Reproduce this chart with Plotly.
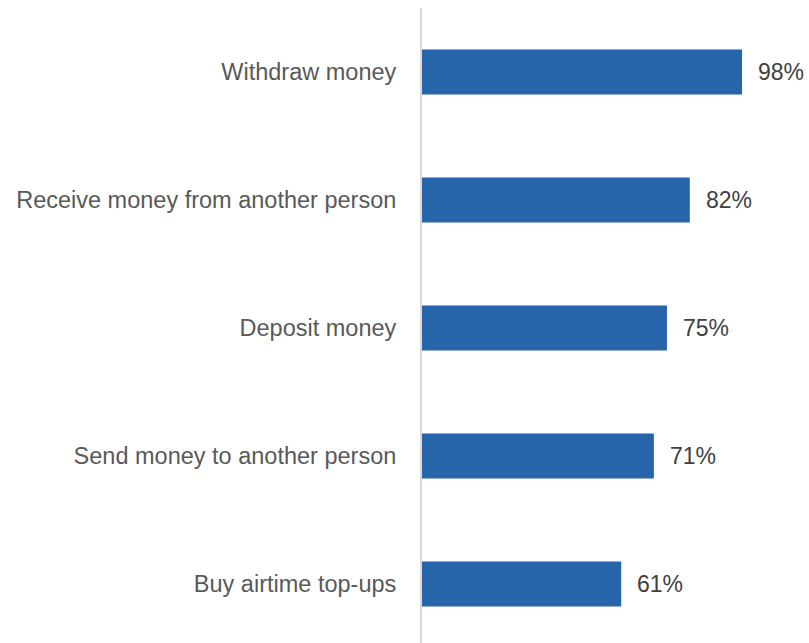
import plotly.graph_objects as go

# Mobile money services and share of users
services = [
    "Withdraw money",
    "Receive money from another person",
    "Deposit money",
    "Send money to another person",
    "Buy airtime top-ups",
]
shares = [98, 82, 75, 71, 61]

positions = list(range(len(services)))
bar_color = "#2765ab"
label_color = "#595959"
value_color = "#404040"
font_family = "Liberation Sans, Arial, sans-serif"

fig = go.Figure(
    go.Bar(
        x=shares,
        y=positions,
        orientation="h",
        marker=dict(color=bar_color, line=dict(width=0)),
        width=0.352,
        hoverinfo="skip",
    )
)

for pos, val in zip(positions, shares):
    fig.add_annotation(
        x=val, y=pos, text=f"{val}%", showarrow=False,
        xanchor="left", yanchor="middle", xshift=14,
        font=dict(size=23, color=value_color, family=font_family),
    )

fig.update_layout(
    width=809, height=643,
    margin=dict(l=422, r=0, t=8, b=0),
    paper_bgcolor="white", plot_bgcolor="white",
    showlegend=False,
    font=dict(family=font_family, color=label_color, size=23),
)
fig.update_xaxes(
    range=[0, 118.5], visible=False, showgrid=False, zeroline=False,
)
fig.update_yaxes(
    range=[4.461, -0.5],
    tickmode="array", tickvals=positions, ticktext=services,
    showgrid=False, zeroline=False,
    showline=True, linecolor="#d9d9d9", linewidth=2,
    ticks="", ticklabelstandoff=19,
    tickfont=dict(size=23.5, color=label_color, family=font_family),
)

fig.write_html("out.html")
